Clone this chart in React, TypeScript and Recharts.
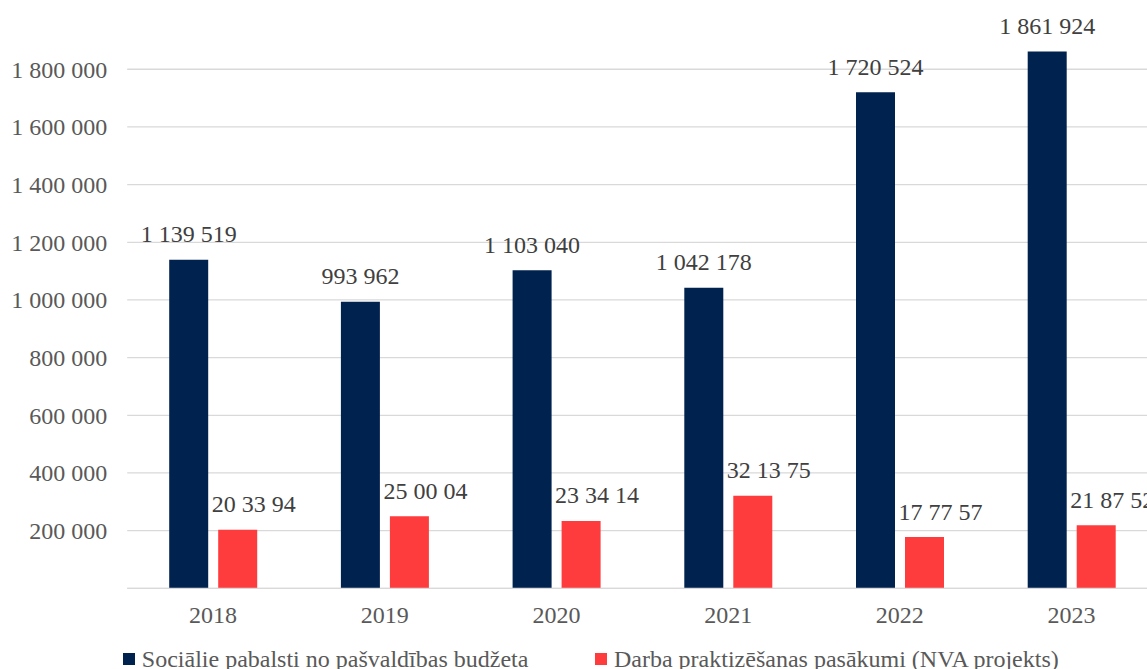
import React from 'react';
import { BarChart, Bar, XAxis, YAxis, CartesianGrid, LabelList, Legend } from 'recharts';

const years = ['2018', '2019', '2020', '2021', '2022', '2023'];
const socialBenefits = [1139519, 993962, 1103040, 1042178, 1720524, 1861924];
const internships = [203394, 250004, 233414, 321375, 177757, 218752];
const internshipLabels = ['20 33 94', '25 00 04', '23 34 14', '32 13 75', '17 77 57', '21 87 52'];
const yTicks = [0, 200000, 400000, 600000, 800000, 1000000, 1200000, 1400000, 1600000, 1800000];
const yMax = 2000000;
const seriesNames = ['Sociālie pabalsti no pašvaldības budžeta', 'Darba praktizēšanas pasākumi (NVA projekts)'];

const NAVY = '#00224E';
const RED = '#FE3B3D';
const FONT = 'Liberation Serif, Times New Roman, DejaVu Serif, serif';
const FS = 24;

const fmt = (n: number) => String(n).replace(/\B(?=(\d{3})+(?!\d))/g, ' ');

const rows = years.map((y, i) => ({
  year: y,
  social: socialBenefits[i],
  socialLabel: fmt(socialBenefits[i]),
  intern: internships[i],
  internLabel: internshipLabels[i],
}));

const makeLabel = (dx: number) => (props: any) => {
  const { x, y, width, value } = props;
  return (
    <text
      x={Number(x) + Number(width) / 2 + dx}
      y={Number(y) - 17.5}
      textAnchor="middle"
      fontSize={FS}
      fill="#404040"
      style={{ fontFamily: FONT }}
    >
      {value}
    </text>
  );
};

const gridGen = (p: any) => {
  const s = p && p.yAxis && p.yAxis.scale;
  if (typeof s === 'function') return yTicks.map((t) => s(t));
  if (s && typeof s.map === 'function') return yTicks.map((t) => s.map(t));
  const off = p.offset || {};
  return yTicks.map((t) => off.top + off.height * (1 - t / yMax));
};

const LegendContent = () => (
  <div
    style={{
      display: 'flex',
      justifyContent: 'center',
      alignItems: 'center',
      fontFamily: FONT,
      fontSize: FS,
      color: '#595959',
      lineHeight: '24px',
      whiteSpace: 'nowrap',
    }}
  >
    {seriesNames.map((name, i) => (
      <div key={name} style={{ display: 'flex', alignItems: 'center', marginLeft: i === 0 ? 0 : 67 }}>
        <span
          style={{
            display: 'inline-block',
            width: 12,
            height: 12,
            background: i === 0 ? NAVY : RED,
            marginRight: 6.6,
          }}
        />
        <span>{name}</span>
      </div>
    ))}
  </div>
);

const tickStyle = { fontSize: FS, fill: '#595959', style: { fontFamily: FONT } };

export default function App() {
  return (
    <div
      style={{
        position: 'fixed',
        left: 0,
        top: 0,
        width: 1147,
        height: 669,
        overflow: 'hidden',
        background: '#ffffff',
        fontFamily: FONT,
      }}
    >
      <BarChart
        width={1160}
        height={669}
        data={rows}
        margin={{ top: 11.6, right: 2.6, bottom: 40.7, left: 0 }}
        barSize={39}
        barGap={10}
        style={{ fontFamily: FONT }}
      >
        <CartesianGrid
          vertical={false}
          stroke="#D9D9D9"
          strokeWidth={1.3}
          horizontalCoordinatesGenerator={gridGen}
        />
        <XAxis
          dataKey="year"
          axisLine={{ stroke: '#D9D9D9', strokeWidth: 1.3 }}
          tickLine={false}
          tickSize={0}
          tickMargin={18}
          height={40}
          tick={tickStyle}
        />
        <YAxis
          width={127.2}
          domain={[0, yMax]}
          ticks={yTicks}
          interval={0}
          axisLine={false}
          tickLine={false}
          tickSize={0}
          tickMargin={20}
          tickFormatter={(v: number) => (v === 0 ? '' : fmt(v))}
          tick={tickStyle}
        />
        <Legend
          layout="horizontal"
          verticalAlign="middle"
          align="center"
          content={<LegendContent />}
          wrapperStyle={{ position: 'absolute', top: 647, left: 11, width: 1160, bottom: 'auto' }}
        />
        <Bar dataKey="social" name={seriesNames[0]} fill={NAVY} isAnimationActive={false}>
          <LabelList dataKey="socialLabel" content={makeLabel(0)} />
        </Bar>
        <Bar dataKey="intern" name={seriesNames[1]} fill={RED} isAnimationActive={false}>
          <LabelList dataKey="internLabel" content={makeLabel(16)} />
        </Bar>
      </BarChart>
    </div>
  );
}
